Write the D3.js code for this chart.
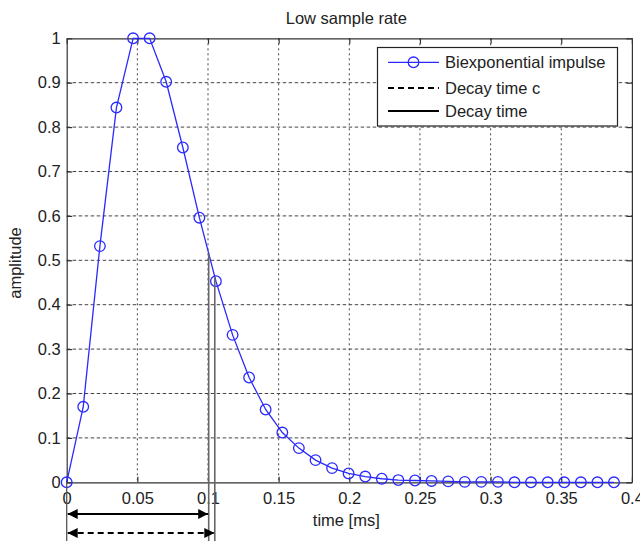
<!DOCTYPE html>
<html><head><meta charset="utf-8">
<script src="https://cdn.jsdelivr.net/npm/d3@7"></script>
<style>body{margin:0;background:#fff}svg{display:block}text{font-family:"Liberation Sans",Arial,sans-serif;fill:#222}</style>
</head><body><svg id="c" width="640" height="541"></svg>
<script>
const times = [0, 0.0117, 0.0235, 0.0352, 0.0470, 0.0587, 0.0704, 0.0822, 0.0939, 0.1056, 0.1174, 0.1291, 0.1408, 0.1526, 0.1643, 0.1761, 0.1878, 0.1995, 0.2113, 0.2230, 0.2347, 0.2465, 0.2582, 0.2700, 0.2817, 0.2934, 0.3052, 0.3169, 0.3286, 0.3404, 0.3521, 0.3639, 0.3756, 0.3873];
const amplitude = [0, 0.170, 0.532, 0.844, 1.0, 1.0, 0.902, 0.754, 0.596, 0.453, 0.332, 0.236, 0.164, 0.112, 0.077, 0.050, 0.032, 0.020, 0.013, 0.008, 0.005, 0.004, 0.003, 0.002, 0.001, 0.001, 0.001, 0, 0, 0, 0, 0, 0, 0];
const xTicks = [0, 0.05, 0.1, 0.15, 0.2, 0.25, 0.3, 0.35, 0.4];
const yTicks = [0, 0.1, 0.2, 0.3, 0.4, 0.5, 0.6, 0.7, 0.8, 0.9, 1];
const decayTime = 0.1005;
const decayTimeC = 0.1048;
const legendLabels = ["Biexponential impulse", "Decay time c", "Decay time"];
const titleText = "Low sample rate";
const xLabel = "time [ms]";
const yLabel = "amplitude";

const svg = d3.select("#c");
const L = 66.7, R = 631.9, T = 38.3, B = 482.3;
const x = d3.scaleLinear().domain([0, 0.4]).range([L, R]);
const y = d3.scaleLinear().domain([0, 1]).range([B, T]);
const FS = 16.5;
const axisCol = "#333";

// grid
const g = svg.append("g");
g.selectAll(".vg").data(xTicks.slice(1, -1)).enter().append("line")
  .attr("x1", d => x(d)).attr("x2", d => x(d)).attr("y1", T).attr("y2", B)
  .attr("stroke", "#444").attr("stroke-width", 1).attr("stroke-dasharray", "2,3");
g.selectAll(".hg").data(yTicks.slice(1, -1)).enter().append("line")
  .attr("x1", L).attr("x2", R).attr("y1", d => y(d)).attr("y2", d => y(d))
  .attr("stroke", "#444").attr("stroke-width", 1).attr("stroke-dasharray", "3.5,2.5");

// axes (inside ticks)
const tl = 5.5;
const ax = svg.append("g").attr("transform", `translate(0,${B})`)
  .call(d3.axisBottom(x).tickValues(xTicks).tickSizeInner(-tl).tickSizeOuter(0).tickPadding(10).tickFormat(d3.format("~g")));
const ay = svg.append("g").attr("transform", `translate(${L},0)`)
  .call(d3.axisLeft(y).tickValues(yTicks).tickSizeInner(-tl).tickSizeOuter(0).tickPadding(6).tickFormat(d3.format("~g")));
const axT = svg.append("g").attr("transform", `translate(0,${T})`)
  .call(d3.axisTop(x).tickValues(xTicks).tickSizeInner(-tl).tickSizeOuter(0).tickFormat(""));
const ayR = svg.append("g").attr("transform", `translate(${R},0)`)
  .call(d3.axisRight(y).tickValues(yTicks).tickSizeInner(-tl).tickSizeOuter(0).tickFormat(""));
[ax, ay, axT, ayR].forEach(a => {
  a.selectAll("path").attr("stroke", axisCol).attr("stroke-width", 1.2);
  a.selectAll("line").attr("stroke", axisCol).attr("stroke-width", 1.2);
  a.selectAll("text").attr("font-family", '"Liberation Sans",Arial,sans-serif').attr("font-size", FS).attr("fill", "#222");
});
ax.selectAll("text").attr("dy", "0.71em").attr("y", 10);

// series
const pts = times.map((t, i) => [t, amplitude[i]]);
const blue = "#2a2aff";
svg.append("path").datum(pts)
  .attr("d", d3.line().x(d => x(d[0])).y(d => y(d[1])))
  .attr("fill", "none").attr("stroke", blue).attr("stroke-width", 1.3);
svg.selectAll(".pt").data(pts).enter().append("circle")
  .attr("cx", d => x(d[0])).attr("cy", d => y(d[1])).attr("r", 5.3)
  .attr("fill", "none").attr("stroke", blue).attr("stroke-width", 1.3);

// decay annotation lines
function valAt(t) {
  const i = d3.bisectRight(times, t) - 1;
  const f = (t - times[i]) / (times[i + 1] - times[i]);
  return amplitude[i] + f * (amplitude[i + 1] - amplitude[i]);
}
const ann = svg.append("g");
[decayTime, decayTimeC].forEach(t => {
  ann.append("line").attr("x1", x(t)).attr("x2", x(t)).attr("y1", y(valAt(t))).attr("y2", 541)
    .attr("stroke", "#666").attr("stroke-width", 1.6);
});
ann.append("line").attr("x1", x(0)).attr("x2", x(0)).attr("y1", B).attr("y2", 541)
  .attr("stroke", "#555").attr("stroke-width", 1.3);

const defs = svg.append("defs");
defs.append("marker").attr("id", "ah").attr("viewBox", "0 0 10 10").attr("refX", 10).attr("refY", 5)
  .attr("markerWidth", 10).attr("markerHeight", 10).attr("markerUnits", "userSpaceOnUse").attr("orient", "auto-start-reverse")
  .append("path").attr("d", "M0,0 L10,5 L0,10 Z").attr("fill", "#000");
const yS = 514, yD = 533;
ann.append("line").attr("x1", x(0) + 1).attr("x2", x(decayTime) - 0.5).attr("y1", yS).attr("y2", yS)
  .attr("stroke", "#000").attr("stroke-width", 2).attr("marker-start", "url(#ah)").attr("marker-end", "url(#ah)");
ann.append("line").attr("x1", x(0) + 1).attr("x2", x(decayTimeC) - 0.5).attr("y1", yD).attr("y2", yD)
  .attr("stroke", "#000").attr("stroke-width", 2).attr("stroke-dasharray", "6,4")
  .attr("marker-start", "url(#ah)").attr("marker-end", "url(#ah)");

// labels
svg.append("text").attr("x", (L + R) / 2 - 3).attr("y", 24).attr("text-anchor", "middle").attr("font-size", FS).text(titleText);
svg.append("text").attr("x", (L + R) / 2 - 3).attr("y", 526).attr("text-anchor", "middle").attr("font-size", FS).text(xLabel);
svg.append("text").attr("transform", "translate(21,263) rotate(-90)").attr("text-anchor", "middle").attr("font-size", FS).text(yLabel);

// legend
const lg = svg.append("g");
lg.append("rect").attr("x", 377.5).attr("y", 47.5).attr("width", 240).attr("height", 78.5)
  .attr("fill", "#fff").attr("stroke", "#222").attr("stroke-width", 1.2);
const rows = [62.3, 88, 111];
const lx1 = 388, lx2 = 439;
lg.append("line").attr("x1", lx1).attr("x2", lx2).attr("y1", rows[0]).attr("y2", rows[0]).attr("stroke", blue).attr("stroke-width", 1.3);
lg.append("circle").attr("cx", (lx1 + lx2) / 2).attr("cy", rows[0]).attr("r", 5.3).attr("fill", "none").attr("stroke", blue).attr("stroke-width", 1.3);
lg.append("line").attr("x1", lx1).attr("x2", lx2).attr("y1", rows[1]).attr("y2", rows[1]).attr("stroke", "#000").attr("stroke-width", 2).attr("stroke-dasharray", "6,4");
lg.append("line").attr("x1", lx1).attr("x2", lx2).attr("y1", rows[2]).attr("y2", rows[2]).attr("stroke", "#000").attr("stroke-width", 2);
legendLabels.forEach((s, i) => {
  lg.append("text").attr("x", 445).attr("y", rows[i] + 6).attr("font-size", FS).text(s);
});
</script></body></html>
